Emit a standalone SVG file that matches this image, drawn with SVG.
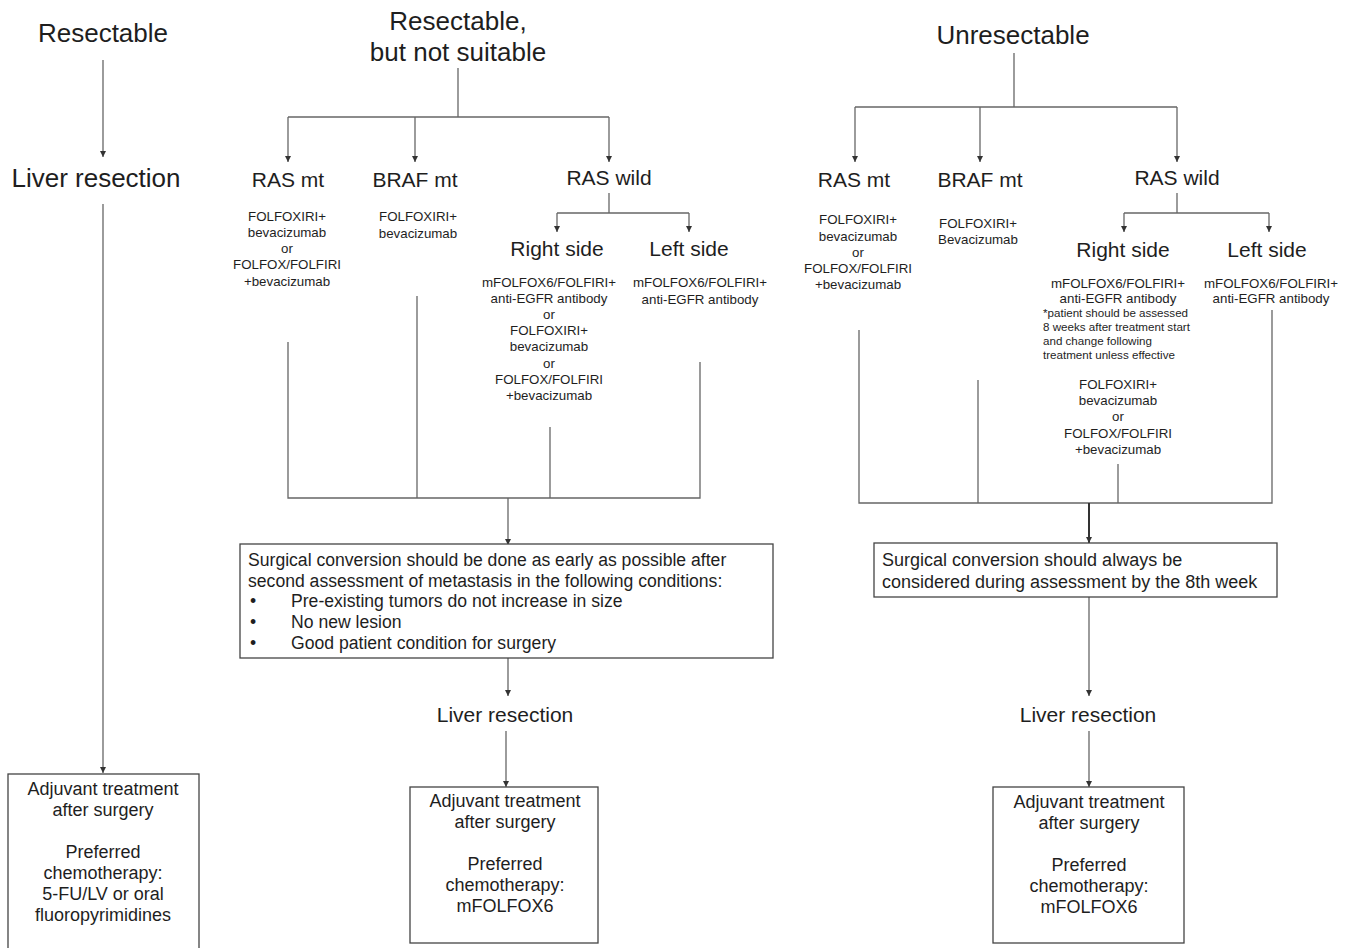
<svg xmlns="http://www.w3.org/2000/svg" width="1352" height="948" viewBox="0 0 1352 948">
<style>
text{font-family:"Liberation Sans",Arial,sans-serif;fill:#1e1e1e}
.h1{font-size:26px;text-anchor:middle}
.h2{font-size:21px;text-anchor:middle}
.h3{font-size:21px;text-anchor:middle}
.sm{font-size:13.3px;text-anchor:middle}
.xs{font-size:11.6px}
.bx{font-size:18px;text-anchor:middle}
.bt{font-size:17.6px}
.bt2{font-size:18px}
.ln{fill:none;stroke:#666;stroke-width:1.3}
.lnd{fill:none;stroke:#333;stroke-width:2}
.box{fill:#fff;stroke:#444;stroke-width:1.3}
</style>
<defs>
<marker id="ah" markerWidth="7" markerHeight="7" refX="6" refY="3.5" orient="auto" markerUnits="userSpaceOnUse">
<path d="M0,0.5 L6,3.5 L0,6.5 z" fill="#333"/>
</marker>
</defs>
<rect width="1352" height="948" fill="#fff"/>

<g id="connectors">
<!-- left column -->
<line class="ln" x1="103" y1="60" x2="103" y2="157" marker-end="url(#ah)"/>
<line class="ln" x1="103" y1="204" x2="103" y2="773" marker-end="url(#ah)"/>
<!-- middle column -->
<polyline class="ln" points="458,68 458,117"/>
<polyline class="ln" points="288,117 609,117"/>
<line class="ln" x1="288" y1="117" x2="288" y2="162" marker-end="url(#ah)"/>
<line class="ln" x1="415" y1="117" x2="415" y2="162" marker-end="url(#ah)"/>
<line class="ln" x1="609" y1="117" x2="609" y2="162" marker-end="url(#ah)"/>
<polyline class="ln" points="609,193 609,213"/>
<polyline class="ln" points="557,213 689,213"/>
<line class="ln" x1="557" y1="213" x2="557" y2="232" marker-end="url(#ah)"/>
<line class="ln" x1="689" y1="213" x2="689" y2="232" marker-end="url(#ah)"/>
<polyline class="ln" points="288,342 288,498 700,498 700,362"/>
<polyline class="ln" points="417,296 417,498"/>
<polyline class="ln" points="550,427 550,498"/>
<line class="ln" x1="508" y1="498" x2="508" y2="545" marker-end="url(#ah)"/>
<line class="ln" x1="508" y1="658" x2="508" y2="696" marker-end="url(#ah)"/>
<line class="ln" x1="506" y1="731" x2="506" y2="787" marker-end="url(#ah)"/>
<!-- right column -->
<polyline class="ln" points="1014,53 1014,107"/>
<polyline class="ln" points="855,107 1177,107"/>
<line class="ln" x1="855" y1="107" x2="855" y2="162" marker-end="url(#ah)"/>
<line class="ln" x1="980" y1="107" x2="980" y2="162" marker-end="url(#ah)"/>
<line class="ln" x1="1177" y1="107" x2="1177" y2="162" marker-end="url(#ah)"/>
<polyline class="ln" points="1177,193 1177,213"/>
<polyline class="ln" points="1124,213 1269,213"/>
<line class="ln" x1="1124" y1="213" x2="1124" y2="232" marker-end="url(#ah)"/>
<line class="ln" x1="1269" y1="213" x2="1269" y2="232" marker-end="url(#ah)"/>
<polyline class="ln" points="859,330 859,503 1272,503 1272,310"/>
<polyline class="ln" points="978,380 978,503"/>
<polyline class="ln" points="1118,464 1118,503"/>
<line class="lnd" x1="1089" y1="503" x2="1089" y2="543" marker-end="url(#ah)"/>
<line class="ln" x1="1089" y1="597" x2="1089" y2="696" marker-end="url(#ah)"/>
<line class="ln" x1="1089" y1="731" x2="1089" y2="787" marker-end="url(#ah)"/>
</g>

<g id="n-resectable"><text class="h1" x="103" y="42">Resectable</text></g>
<g id="n-liver-left"><text class="h1" x="96" y="187">Liver resection</text></g>
<g id="n-adj-left">
<rect class="box" x="8" y="774" width="191" height="180"/>
<text class="bx" x="103" y="795">Adjuvant treatment</text>
<text class="bx" x="103" y="816">after surgery</text>
<text class="bx" x="103" y="858">Preferred</text>
<text class="bx" x="103" y="879">chemotherapy:</text>
<text class="bx" x="103" y="900">5-FU/LV or oral</text>
<text class="bx" x="103" y="921">fluoropyrimidines</text>
</g>

<g id="n-resectable-ns">
<text class="h1" x="458" y="30">Resectable,</text>
<text class="h1" x="458" y="61">but not suitable</text>
</g>
<g id="n-m-rasmt">
<text class="h2" x="288" y="187">RAS mt</text>
<text class="sm" x="287" y="221">FOLFOXIRI+</text>
<text class="sm" x="287" y="237">bevacizumab</text>
<text class="sm" x="287" y="253">or</text>
<text class="sm" x="287" y="269">FOLFOX/FOLFIRI</text>
<text class="sm" x="287" y="286">+bevacizumab</text>
</g>
<g id="n-m-braf">
<text class="h2" x="415" y="187">BRAF mt</text>
<text class="sm" x="418" y="221">FOLFOXIRI+</text>
<text class="sm" x="418" y="238">bevacizumab</text>
</g>
<g id="n-m-raswild"><text class="h2" x="609" y="185">RAS wild</text></g>
<g id="n-m-right">
<text class="h3" x="557" y="256">Right side</text>
<text class="sm" x="549" y="287">mFOLFOX6/FOLFIRI+</text>
<text class="sm" x="549" y="303">anti-EGFR antibody</text>
<text class="sm" x="549" y="319">or</text>
<text class="sm" x="549" y="335">FOLFOXIRI+</text>
<text class="sm" x="549" y="351">bevacizumab</text>
<text class="sm" x="549" y="368">or</text>
<text class="sm" x="549" y="384">FOLFOX/FOLFIRI</text>
<text class="sm" x="549" y="400">+bevacizumab</text>
</g>
<g id="n-m-left">
<text class="h3" x="689" y="256">Left side</text>
<text class="sm" x="700" y="287">mFOLFOX6/FOLFIRI+</text>
<text class="sm" x="700" y="304">anti-EGFR antibody</text>
</g>
<g id="n-m-conv">
<rect class="box" x="240" y="544" width="533" height="114"/>
<text class="bt" x="248" y="566">Surgical conversion should be done as early as possible after</text>
<text class="bt" x="248" y="587">second assessment of metastasis in the following conditions:</text>
<text class="bt" x="250" y="607">•</text><text class="bt" x="291" y="607">Pre-existing tumors do not increase in size</text>
<text class="bt" x="250" y="628">•</text><text class="bt" x="291" y="628">No new lesion</text>
<text class="bt" x="250" y="649">•</text><text class="bt" x="291" y="649">Good patient condition for surgery</text>
</g>
<g id="n-m-liver"><text class="h2" x="505" y="722">Liver resection</text></g>
<g id="n-m-adj">
<rect class="box" x="410" y="787" width="188" height="156"/>
<text class="bx" x="505" y="807">Adjuvant treatment</text>
<text class="bx" x="505" y="828">after surgery</text>
<text class="bx" x="505" y="870">Preferred</text>
<text class="bx" x="505" y="891">chemotherapy:</text>
<text class="bx" x="505" y="912">mFOLFOX6</text>
</g>

<g id="n-unresectable"><text class="h1" x="1013" y="44">Unresectable</text></g>
<g id="n-r-rasmt">
<text class="h2" x="854" y="187">RAS mt</text>
<text class="sm" x="858" y="224">FOLFOXIRI+</text>
<text class="sm" x="858" y="241">bevacizumab</text>
<text class="sm" x="858" y="257">or</text>
<text class="sm" x="858" y="273">FOLFOX/FOLFIRI</text>
<text class="sm" x="858" y="289">+bevacizumab</text>
</g>
<g id="n-r-braf">
<text class="h2" x="980" y="187">BRAF mt</text>
<text class="sm" x="978" y="228">FOLFOXIRI+</text>
<text class="sm" x="978" y="244">Bevacizumab</text>
</g>
<g id="n-r-raswild"><text class="h2" x="1177" y="185">RAS wild</text></g>
<g id="n-r-right">
<text class="h3" x="1123" y="257">Right side</text>
<text class="sm" x="1118" y="288">mFOLFOX6/FOLFIRI+</text>
<text class="sm" x="1118" y="303">anti-EGFR antibody</text>
<text class="xs" x="1043" y="317">*patient should be assessed</text>
<text class="xs" x="1043" y="331">8 weeks after treatment start</text>
<text class="xs" x="1043" y="345">and change following</text>
<text class="xs" x="1043" y="359">treatment unless effective</text>
<text class="sm" x="1118" y="389">FOLFOXIRI+</text>
<text class="sm" x="1118" y="405">bevacizumab</text>
<text class="sm" x="1118" y="421">or</text>
<text class="sm" x="1118" y="438">FOLFOX/FOLFIRI</text>
<text class="sm" x="1118" y="454">+bevacizumab</text>
</g>
<g id="n-r-left">
<text class="h3" x="1267" y="257">Left side</text>
<text class="sm" x="1271" y="288">mFOLFOX6/FOLFIRI+</text>
<text class="sm" x="1271" y="303">anti-EGFR antibody</text>
</g>
<g id="n-r-conv">
<rect class="box" x="874" y="543" width="403" height="54"/>
<text class="bt2" x="882" y="566">Surgical conversion should always be</text>
<text class="bt2" x="882" y="588">considered during assessment by the 8th week</text>
</g>
<g id="n-r-liver"><text class="h2" x="1088" y="722">Liver resection</text></g>
<g id="n-r-adj">
<rect class="box" x="993" y="787" width="191" height="156"/>
<text class="bx" x="1089" y="808">Adjuvant treatment</text>
<text class="bx" x="1089" y="829">after surgery</text>
<text class="bx" x="1089" y="871">Preferred</text>
<text class="bx" x="1089" y="892">chemotherapy:</text>
<text class="bx" x="1089" y="913">mFOLFOX6</text>
</g>
</svg>
